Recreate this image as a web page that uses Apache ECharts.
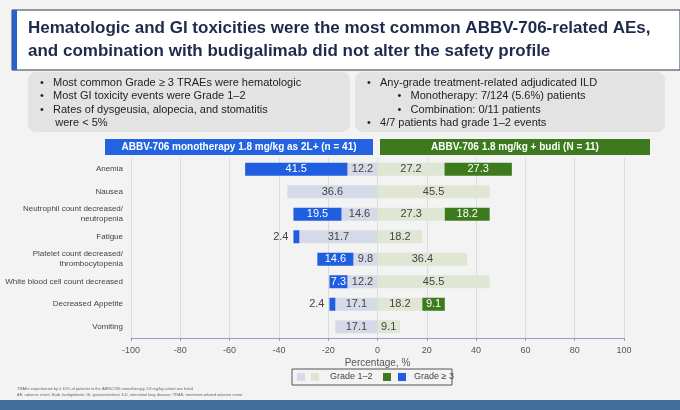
<!DOCTYPE html>
<html>
<head>
<meta charset="utf-8">
<style>body{margin:0;background:#f3f3f3}</style>
<script src="https://cdn.jsdelivr.net/npm/echarts@6/dist/echarts.min.js"></script>
</head>
<body>
<div id="main" style="width:680px;height:410px;"></div>
<script>
var categories = ['Anemia', 'Nausea', 'Neutrophil count decreased/\nneutropenia', 'Fatigue',
  'Platelet count decreased/\nthrombocytopenia', 'White blood cell count decreased', 'Decreased Appetite', 'Vomiting'];
var monoG12 = [12.2, 36.6, 14.6, 31.7, 9.8, 12.2, 17.1, 17.1];
var monoG3 = [41.5, 0, 19.5, 2.4, 14.6, 7.3, 2.4, 0];
var combG12 = [27.2, 45.5, 27.3, 18.2, 36.4, 45.5, 18.2, 9.1];
var combG3 = [27.3, 0, 18.2, 0, 0, 0, 9.1, 0];

function mk(vals, sign, lblColor) {
  return vals.map(function (v) {
    if (!v) return { value: null };
    var item = { value: sign * v, label: { show: true, color: lblColor } };
    if (v < 5) item.label = { show: true, position: sign < 0 ? 'left' : 'right', color: '#444' };
    return item;
  });
}
var lbl = { fontSize: 11, formatter: function (p) { return Math.abs(p.value).toFixed(1); } };

var chart = echarts.init(document.getElementById('main'));
chart.setOption({
  backgroundColor: '#f3f3f3',
  textStyle: { fontFamily: 'Liberation Sans, Arial' },
  grid: { left: 131, right: 56, top: 158, bottom: 72 },
  xAxis: {
    type: 'value', min: -100, max: 100, interval: 20,
    name: 'Percentage, %', nameLocation: 'middle', nameGap: 20,
    nameTextStyle: { fontSize: 10, color: '#555' },
    axisLine: { show: true, lineStyle: { color: '#8fa0c8' } },
    axisTick: { show: true, length: 3, lineStyle: { color: '#8fa0c8' } },
    axisLabel: { fontSize: 9, color: '#555' },
    splitLine: { lineStyle: { color: '#dcdcdc' } }
  },
  yAxis: {
    type: 'category', data: categories, inverse: true,
    axisLine: { show: false }, axisTick: { show: false },
    axisLabel: { fontSize: 8, color: '#444', lineHeight: 10 }
  },
  series: [
    { type: 'bar', stack: 'm', barWidth: 13, barGap: '-100%', itemStyle: { color: '#d6dae8' }, label: lbl, data: mk(monoG12, -1, '#444') },
    { type: 'bar', stack: 'm', barWidth: 13, barGap: '-100%', itemStyle: { color: '#1f5ee0' }, label: lbl, data: mk(monoG3, -1, '#fff') },
    { type: 'bar', stack: 'c', barWidth: 13, barGap: '-100%', itemStyle: { color: '#dfe6d3' }, label: lbl, data: mk(combG12, 1, '#444') },
    { type: 'bar', stack: 'c', barWidth: 13, barGap: '-100%', itemStyle: { color: '#3d7a1e' }, label: lbl, data: mk(combG3, 1, '#fff') }
  ],
  graphic: [
    { type: 'rect', shape: { x: 12, y: 10, width: 668, height: 60 }, style: { fill: '#fff', stroke: '#2d3850', lineWidth: 1 } },
    { type: 'rect', shape: { x: 12, y: 10, width: 5, height: 60 }, style: { fill: '#2563c9' } },
    { type: 'text', left: 28, top: 17, style: { text: 'Hematologic and GI toxicities were the most common ABBV-706-related AEs,\nand combination with budigalimab did not alter the safety profile', font: 'bold 17px Liberation Sans', fill: '#1e2a4a', lineHeight: 23 } },
    { type: 'rect', shape: { x: 28, y: 72, width: 322, height: 60, r: 8 }, style: { fill: '#e3e3e3' } },
    { type: 'rect', shape: { x: 355, y: 72, width: 310, height: 60, r: 8 }, style: { fill: '#e3e3e3' } },
    { type: 'text', left: 40, top: 76, style: { text: '•   Most common Grade ≥ 3 TRAEs were hematologic\n•   Most GI toxicity events were Grade 1–2\n•   Rates of dysgeusia, alopecia, and stomatitis\n     were < 5%', font: '11px Liberation Sans', fill: '#222', lineHeight: 13.5 } },
    { type: 'text', left: 367, top: 76, style: { text: '•   Any-grade treatment-related adjudicated ILD\n          •   Monotherapy: 7/124 (5.6%) patients\n          •   Combination: 0/11 patients\n•   4/7 patients had grade 1–2 events', font: '11px Liberation Sans', fill: '#222', lineHeight: 13.5 } },
    { type: 'rect', shape: { x: 105, y: 139, width: 268, height: 16 }, style: { fill: '#2463e0' } },
    { type: 'text', x: 239, y: 147, style: { text: 'ABBV-706 monotherapy 1.8 mg/kg as 2L+ (n = 41)', font: 'bold 10px Liberation Sans', fill: '#fff', align: 'center', verticalAlign: 'middle' } },
    { type: 'rect', shape: { x: 380, y: 139, width: 270, height: 16 }, style: { fill: '#3d7a1e' } },
    { type: 'text', x: 515, y: 147, style: { text: 'ABBV-706 1.8 mg/kg + budi (N = 11)', font: 'bold 10px Liberation Sans', fill: '#fff', align: 'center', verticalAlign: 'middle' } },
    { type: 'rect', shape: { x: 292, y: 369, width: 160, height: 16 }, style: { fill: 'none', stroke: '#555', lineWidth: 1 } },
    { type: 'rect', shape: { x: 297, y: 373, width: 8, height: 8 }, style: { fill: '#d6dae8' } },
    { type: 'rect', shape: { x: 311, y: 373, width: 8, height: 8 }, style: { fill: '#dfe6d3' } },
    { type: 'text', left: 330, top: 372, style: { text: 'Grade 1–2', font: '9px Liberation Sans', fill: '#444' } },
    { type: 'rect', shape: { x: 383, y: 373, width: 8, height: 8 }, style: { fill: '#3d7a1e' } },
    { type: 'rect', shape: { x: 398, y: 373, width: 8, height: 8 }, style: { fill: '#1f5ee0' } },
    { type: 'text', left: 414, top: 372, style: { text: 'Grade ≥ 3', font: '9px Liberation Sans', fill: '#444' } },
    { type: 'text', left: 17, top: 386, style: { text: 'TRAEs experienced by ≥ 15% of patients in the ABBV-706 monotherapy 1.8 mg/kg cohort are listed\nAE, adverse event; Budi, budigalimab; GI, gastrointestinal; ILD, interstitial lung disease; TRAE, treatment-related adverse event', font: '4px Liberation Sans', fill: '#666', lineHeight: 6 } },
    { type: 'rect', shape: { x: 0, y: 400, width: 680, height: 10 }, style: { fill: '#3f6f9a' } }
  ]
});
</script>
</body>
</html>
